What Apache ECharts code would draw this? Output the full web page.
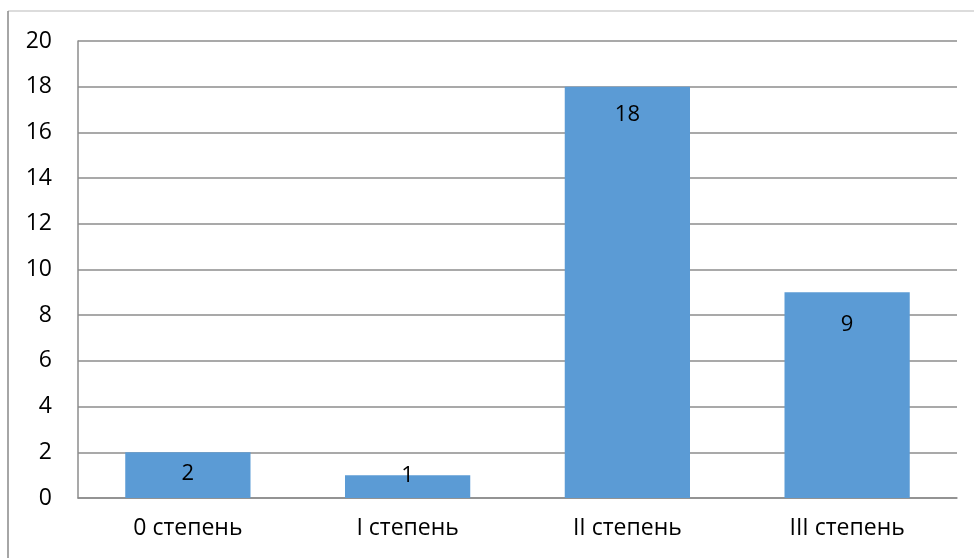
<!DOCTYPE html>
<html>
<head>
<meta charset="utf-8">
<script src="https://cdn.jsdelivr.net/npm/echarts@6/dist/echarts.min.js"></script>
<style>
  html, body { margin: 0; padding: 0; background: #fff; }
  #chart { width: 974px; height: 558px; }
</style>
</head>
<body>
<div id="chart"></div>
<script>
// данные диаграммы
const categories = ['0 степень', 'I степень', 'II степень', 'III степень']
const values = [2, 1, 18, 9]
const yTicks = { min: 0, max: 20, interval: 2 }

// смещения подписей как в оригинале (Excel ставит их неровно)
const labelOffsetY = [10, -10, 17, 21]

const chart = echarts.init(document.getElementById('chart'))

const option = {
  animation: false,
  textStyle: { fontFamily: 'Open Sans, Liberation Sans, sans-serif' },
  grid: { left: 78, right: 17, top: 41, bottom: 60 },
  graphic: [
    { type: 'line', shape: { x1: 8, y1: 11, x2: 974, y2: 11 }, style: { stroke: '#d0d0d0', lineWidth: 1.5 } },
    { type: 'line', shape: { x1: 8, y1: 11, x2: 8, y2: 558 }, style: { stroke: '#888', lineWidth: 1.5 } }
  ],
  xAxis: {
    type: 'category',
    data: categories,
    axisLine: { lineStyle: { color: '#8c8c8c', width: 1.5 } },
    axisTick: { show: false },
    axisLabel: { color: '#000', fontSize: 23, margin: 19 }
  },
  yAxis: {
    type: 'value',
    min: yTicks.min,
    max: yTicks.max,
    interval: yTicks.interval,
    axisLine: { show: true, lineStyle: { color: '#8c8c8c', width: 1.5 } },
    axisTick: { show: false },
    axisLabel: { color: '#000', fontSize: 23, margin: 26 },
    splitLine: { lineStyle: { color: '#8c8c8c', width: 1.5 } }
  },
  series: [{
    type: 'bar',
    barWidth: '57%',
    itemStyle: { color: '#5b9bd5' },
    label: {
      show: true,
      position: 'insideTop',
      distance: 0,
      color: '#000',
      fontSize: 22
    },
    data: values.map((v, i) => ({
      value: v,
      label: { offset: [0, labelOffsetY[i]] }
    }))
  }]
}

chart.setOption(option)
</script>
</body>
</html>
